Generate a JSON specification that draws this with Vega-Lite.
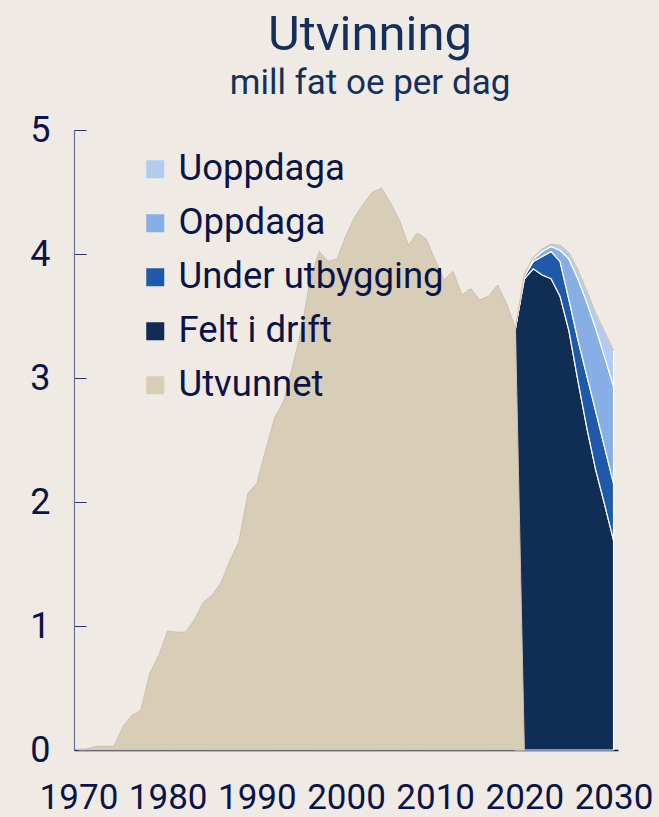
{
  "$schema": "https://vega.github.io/schema/vega-lite/v6.json",
  "autosize": "none",
  "width": 544,
  "height": 620,
  "padding": {"left": 74, "top": 130, "right": 41, "bottom": 67},
  "background": "#EFEBE4",
  "title": {
    "text": "Utvinning",
    "subtitle": "mill fat oe per dag",
    "anchor": "middle",
    "frame": "group",
    "dx": 24,
    "offset": 11,
    "font": "Roboto",
    "fontSize": 49,
    "fontWeight": "normal",
    "color": "#14305A",
    "subtitleFont": "Roboto",
    "subtitleFontSize": 35,
    "subtitleColor": "#14305A",
    "subtitlePadding": 6
  },
  "datasets": {
    "historikk": [
      {"aar": 1970, "utvunnet": 0.005},
      {"aar": 1971, "utvunnet": 0.01},
      {"aar": 1972, "utvunnet": 0.03},
      {"aar": 1973, "utvunnet": 0.03},
      {"aar": 1974, "utvunnet": 0.03},
      {"aar": 1975, "utvunnet": 0.19},
      {"aar": 1976, "utvunnet": 0.28},
      {"aar": 1977, "utvunnet": 0.32},
      {"aar": 1978, "utvunnet": 0.62},
      {"aar": 1979, "utvunnet": 0.76},
      {"aar": 1980, "utvunnet": 0.96},
      {"aar": 1981, "utvunnet": 0.95},
      {"aar": 1982, "utvunnet": 0.95},
      {"aar": 1983, "utvunnet": 1.05},
      {"aar": 1984, "utvunnet": 1.19},
      {"aar": 1985, "utvunnet": 1.25},
      {"aar": 1986, "utvunnet": 1.35},
      {"aar": 1987, "utvunnet": 1.53},
      {"aar": 1988, "utvunnet": 1.68},
      {"aar": 1989, "utvunnet": 2.07},
      {"aar": 1990, "utvunnet": 2.15},
      {"aar": 1991, "utvunnet": 2.42},
      {"aar": 1992, "utvunnet": 2.68},
      {"aar": 1993, "utvunnet": 2.81},
      {"aar": 1994, "utvunnet": 3.09},
      {"aar": 1995, "utvunnet": 3.39},
      {"aar": 1996, "utvunnet": 3.80},
      {"aar": 1997, "utvunnet": 4.02},
      {"aar": 1998, "utvunnet": 3.94},
      {"aar": 1999, "utvunnet": 3.96},
      {"aar": 2000, "utvunnet": 4.15},
      {"aar": 2001, "utvunnet": 4.30},
      {"aar": 2002, "utvunnet": 4.41},
      {"aar": 2003, "utvunnet": 4.50},
      {"aar": 2004, "utvunnet": 4.53},
      {"aar": 2005, "utvunnet": 4.41},
      {"aar": 2006, "utvunnet": 4.27},
      {"aar": 2007, "utvunnet": 4.07},
      {"aar": 2008, "utvunnet": 4.17},
      {"aar": 2009, "utvunnet": 4.12},
      {"aar": 2010, "utvunnet": 3.95},
      {"aar": 2011, "utvunnet": 3.79},
      {"aar": 2012, "utvunnet": 3.86},
      {"aar": 2013, "utvunnet": 3.67},
      {"aar": 2014, "utvunnet": 3.72},
      {"aar": 2015, "utvunnet": 3.63},
      {"aar": 2016, "utvunnet": 3.66},
      {"aar": 2017, "utvunnet": 3.75},
      {"aar": 2018, "utvunnet": 3.60},
      {"aar": 2019, "utvunnet": 3.40},
      {"aar": 2020, "utvunnet": 0}
    ],
    "prognose": [
      {"aar": 2019, "felt": 3.40, "felt_under": 3.40, "felt_under_oppdaga": 3.40, "totalt": 3.40},
      {"aar": 2020, "felt": 3.80, "felt_under": 3.82, "felt_under_oppdaga": 3.83, "totalt": 3.84},
      {"aar": 2021, "felt": 3.88, "felt_under": 3.94, "felt_under_oppdaga": 3.96, "totalt": 3.97},
      {"aar": 2022, "felt": 3.83, "felt_under": 3.98, "felt_under_oppdaga": 4.02, "totalt": 4.04},
      {"aar": 2023, "felt": 3.80, "felt_under": 4.02, "felt_under_oppdaga": 4.06, "totalt": 4.08},
      {"aar": 2024, "felt": 3.66, "felt_under": 3.94, "felt_under_oppdaga": 4.03, "totalt": 4.07},
      {"aar": 2025, "felt": 3.38, "felt_under": 3.63, "felt_under_oppdaga": 3.96, "totalt": 4.01},
      {"aar": 2026, "felt": 2.98, "felt_under": 3.31, "felt_under_oppdaga": 3.80, "totalt": 3.87},
      {"aar": 2027, "felt": 2.60, "felt_under": 3.02, "felt_under_oppdaga": 3.61, "totalt": 3.70},
      {"aar": 2028, "felt": 2.26, "felt_under": 2.73, "felt_under_oppdaga": 3.40, "totalt": 3.52},
      {"aar": 2029, "felt": 1.98, "felt_under": 2.44, "felt_under_oppdaga": 3.17, "totalt": 3.37},
      {"aar": 2030, "felt": 1.69, "felt_under": 2.15, "felt_under_oppdaga": 2.93, "totalt": 3.22}
    ]
  },
  "encoding": {
    "x": {
      "field": "aar",
      "type": "quantitative",
      "scale": {"domain": [1969.5, 2030.5], "nice": false, "zero": false},
      "axis": {"values": [1970, 1980, 1990, 2000, 2010, 2020, 2030], "format": "d"},
      "title": null
    }
  },
  "layer": [
    {
      "data": {"name": "prognose"},
      "mark": {"type": "area", "stroke": "#FFFFFF", "strokeWidth": 1.2},
      "encoding": {
        "y": {"field": "felt", "type": "quantitative", "scale": {"domain": [0, 5], "nice": false}, "title": null},
        "color": {
          "datum": "Felt i drift",
          "scale": {
            "domain": ["Uoppdaga", "Oppdaga", "Under utbygging", "Felt i drift", "Utvunnet"],
            "range": ["#B2CCF0", "#88AEE6", "#1F5AAA", "#0F2D55", "#D8CDB6"]
          }
        }
      }
    },
    {
      "data": {"name": "prognose"},
      "mark": {"type": "area", "stroke": "#FFFFFF", "strokeWidth": 1.2},
      "encoding": {
        "y": {"field": "felt_under", "type": "quantitative", "scale": {"domain": [0, 5], "nice": false}, "title": null},
        "y2": {"field": "felt"},
        "color": {"datum": "Under utbygging"}
      }
    },
    {
      "data": {"name": "prognose"},
      "mark": {"type": "area", "stroke": "#FFFFFF", "strokeWidth": 1.2},
      "encoding": {
        "y": {"field": "felt_under_oppdaga", "type": "quantitative", "scale": {"domain": [0, 5], "nice": false}, "title": null},
        "y2": {"field": "felt_under"},
        "color": {"datum": "Oppdaga"}
      }
    },
    {
      "data": {"name": "prognose"},
      "mark": {"type": "area", "stroke": "#FFFFFF", "strokeWidth": 1.2},
      "encoding": {
        "y": {"field": "totalt", "type": "quantitative", "scale": {"domain": [0, 5], "nice": false}, "title": null},
        "y2": {"field": "felt_under_oppdaga"},
        "color": {"datum": "Uoppdaga"}
      }
    },
    {
      "data": {"name": "prognose"},
      "mark": {"type": "line", "color": "#CBBBAA", "strokeWidth": 1.2},
      "encoding": {
        "y": {"field": "totalt", "type": "quantitative", "scale": {"domain": [0, 5], "nice": false}, "title": null}
      }
    },
    {
      "data": {"name": "historikk"},
      "mark": {"type": "area", "stroke": "#CDBFAF", "strokeWidth": 1},
      "encoding": {
        "y": {"field": "utvunnet", "type": "quantitative", "scale": {"domain": [0, 5], "nice": false}, "title": null},
        "color": {"datum": "Utvunnet"}
      }
    }
  ],
  "resolve": {"scale": {"color": "shared"}},
  "config": {
    "view": {"stroke": null},
    "font": "Roboto",
    "axis": {
      "labelFont": "Roboto",
      "labelFontSize": 36,
      "labelColor": "#0B1446",
      "grid": false,
      "zindex": 1
    },
    "axisX": {
      "ticks": false,
      "domainColor": "#0B1446",
      "domainWidth": 1.5,
      "labelFontSize": 35,
      "labelPadding": 30,
      "labelBaseline": "top",
      "labelFlush": false,
      "labelOverlap": false
    },
    "axisY": {
      "tickCount": 5,
      "ticks": true,
      "tickSize": -12,
      "tickColor": "#2B3566",
      "tickWidth": 1,
      "domainColor": "#6B7194",
      "domainWidth": 1.2,
      "labelPadding": 36,
      "labelBaseline": "middle"
    },
    "legend": {
      "orient": "none",
      "legendX": 63,
      "legendY": 21,
      "title": null,
      "padding": 0,
      "symbolType": "square",
      "symbolSize": 324,
      "symbolStrokeWidth": 0,
      "labelFont": "Roboto",
      "labelFontSize": 36.5,
      "labelColor": "#0B1446",
      "labelOffset": 5,
      "rowPadding": 17,
      "labelLimit": 400
    }
  }
}
